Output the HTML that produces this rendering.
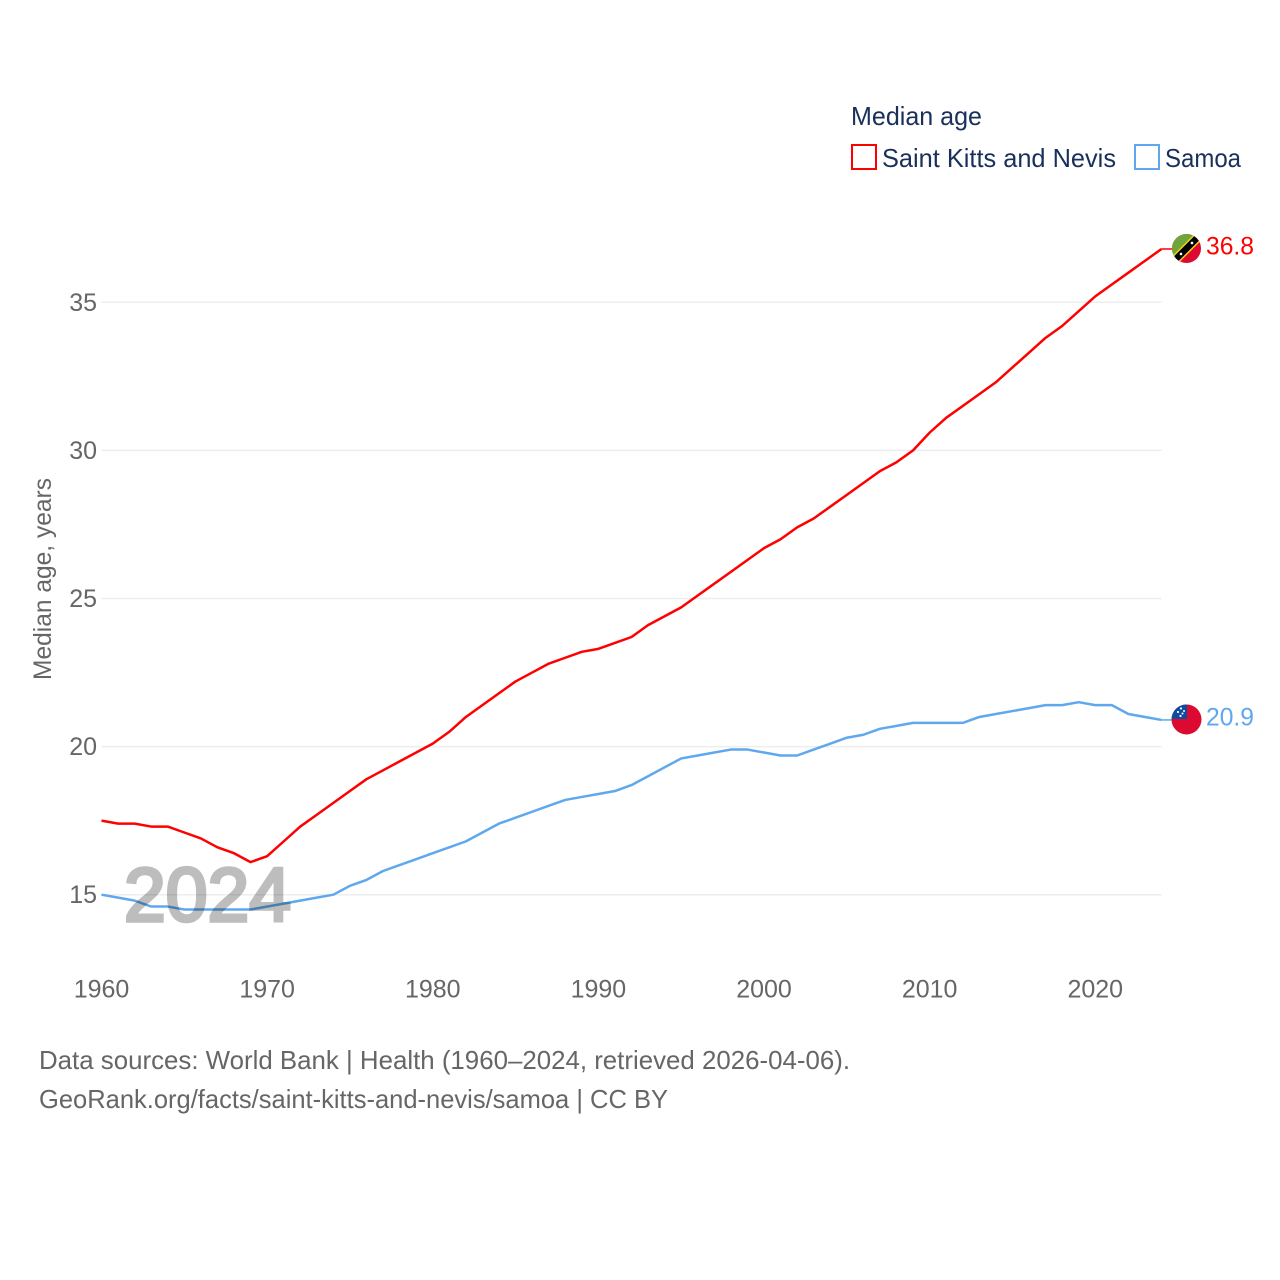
<!DOCTYPE html>
<html lang="en">
<head>
<meta charset="utf-8">
<title>Median age: Saint Kitts and Nevis vs Samoa</title>
<style>
html,body{margin:0;padding:0;background:#fff;}
svg{display:block;font-family:"Liberation Sans",sans-serif;}
.tick{font-size:25px;fill:#666;}
.legend{font-size:26px;fill:#18305a;}
.foot{font-size:26px;fill:#666;}
</style>
</head>
<body>
<svg id="chart" xmlns="http://www.w3.org/2000/svg" width="1280" height="1280" viewBox="0 0 1280 1280">
  <rect width="1280" height="1280" fill="#fff"/>
  <g id="grid"></g>
  <g id="yticks"></g>
  <g id="xticks"></g>
  <g id="series"></g>
  <text x="124" y="921" font-size="76" font-weight="400" fill="#bdbdbd" stroke="#bdbdbd" stroke-width="3.5" textLength="167" lengthAdjust="spacingAndGlyphs" style="mix-blend-mode:multiply">2024</text>
  <text transform="translate(51,680) rotate(-90)" font-size="25" fill="#666" textLength="202" lengthAdjust="spacingAndGlyphs">Median age, years</text>

  <text class="legend" x="851" y="125" textLength="131" lengthAdjust="spacingAndGlyphs">Median age</text>
  <g>
    <rect x="852" y="145" width="24" height="24" fill="none" stroke="#ff0000" stroke-width="2"/>
    <text class="legend" x="882" y="167" textLength="234" lengthAdjust="spacingAndGlyphs">Saint Kitts and Nevis</text>
  </g>
  <g>
    <rect x="1135" y="145" width="24" height="24" fill="none" stroke="#5fa8ee" stroke-width="2"/>
    <text class="legend" x="1165" y="167" textLength="76" lengthAdjust="spacingAndGlyphs">Samoa</text>
  </g>

  <defs>
    <clipPath id="flag-clip-a"><circle cx="0" cy="0" r="14.5"/></clipPath>
    <clipPath id="flag-clip-b"><circle cx="0" cy="0" r="15"/></clipPath>
  </defs>
  <g id="flag-kn" clip-path="url(#flag-clip-a)" style="display:none">
    <rect x="-16" y="-16" width="32" height="32" fill="#dc0a30"/>
    <polygon points="-16,-16 16,-16 -16,16" fill="#6ea53c"/>
    <line x1="-16" y1="16" x2="16" y2="-16" stroke="#f5d311" stroke-width="9.5"/>
    <line x1="-16" y1="16" x2="16" y2="-16" stroke="#000" stroke-width="6.5"/>
    <circle cx="-5.5" cy="5.5" r="1.3" fill="#fff"/>
    <circle cx="5.5" cy="-5.5" r="1.3" fill="#fff"/>
  </g>
  <g id="flag-ws" clip-path="url(#flag-clip-b)" style="display:none">
    <rect x="-16" y="-16" width="32" height="32" fill="#dc0a30"/>
    <rect x="-16" y="-16" width="16.5" height="15.5" fill="#0d4da1"/>
    <circle cx="-5.5" cy="-11" r="1.1" fill="#fff"/>
    <circle cx="-2.5" cy="-8.5" r="1" fill="#fff"/>
    <circle cx="-8.5" cy="-7.5" r="1.1" fill="#fff"/>
    <circle cx="-4" cy="-6" r="1" fill="#fff"/>
    <circle cx="-6" cy="-3.5" r="1.1" fill="#fff"/>
  </g>
  <g id="end-labels"></g>

  <text class="foot" x="39" y="1069" textLength="811" lengthAdjust="spacingAndGlyphs">Data sources: World Bank | Health (1960–2024, retrieved 2026-04-06).</text>
  <text class="foot" x="39" y="1108" textLength="629" lengthAdjust="spacingAndGlyphs">GeoRank.org/facts/saint-kitts-and-nevis/samoa | CC BY</text>
</svg>

<script>
const startYear = 1960;
const yTickValues = [15, 20, 25, 30, 35];
const xTickYears = [1960, 1970, 1980, 1990, 2000, 2010, 2020];
const saintKittsValues = [17.5,17.4,17.4,17.3,17.3,17.1,16.9,16.6,16.4,16.1,16.3,16.8,17.3,17.7,18.1,18.5,18.9,19.2,19.5,19.8,20.1,20.5,21.0,21.4,21.8,22.2,22.5,22.8,23.0,23.2,23.3,23.5,23.7,24.1,24.4,24.7,25.1,25.5,25.9,26.3,26.7,27.0,27.4,27.7,28.1,28.5,28.9,29.3,29.6,30.0,30.6,31.1,31.5,31.9,32.3,32.8,33.3,33.8,34.2,34.7,35.2,35.6,36.0,36.4,36.8];
const samoaValues = [15.0,14.9,14.8,14.6,14.6,14.5,14.5,14.5,14.5,14.5,14.6,14.7,14.8,14.9,15.0,15.3,15.5,15.8,16.0,16.2,16.4,16.6,16.8,17.1,17.4,17.6,17.8,18.0,18.2,18.3,18.4,18.5,18.7,19.0,19.3,19.6,19.7,19.8,19.9,19.9,19.8,19.7,19.7,19.9,20.1,20.3,20.4,20.6,20.7,20.8,20.8,20.8,20.8,21.0,21.1,21.2,21.3,21.4,21.4,21.5,21.4,21.4,21.1,21.0,20.9];
const endLabels = ["36.8", "20.9"];

const NS = "http://www.w3.org/2000/svg";
function xScale(year) { return 101.5 + (year - 1960) * 16.5625; }
function yScale(value) { return 894.7 - (value - 15) * 29.62; }

const gridGroup = document.getElementById("grid");
const yTickGroup = document.getElementById("yticks");
yTickValues.forEach(function (v) {
  const line = document.createElementNS(NS, "line");
  
  
  line.setAttribute("x1", xScale(1960));
  line.setAttribute("x2", xScale(2024));
  line.setAttribute("y1", yScale(v));
  line.setAttribute("y2", yScale(v));
  line.setAttribute("stroke", "#eeeeee");
  line.setAttribute("stroke-width", "1.5");
  gridGroup.appendChild(line);

  const label = document.createElementNS(NS, "text");
  
  
  label.setAttribute("class", "tick");
  label.setAttribute("x", 97);
  label.setAttribute("y", yScale(v) + 8.5);
  label.setAttribute("text-anchor", "end");
  label.textContent = String(v);
  yTickGroup.appendChild(label);
});

const xTickGroup = document.getElementById("xticks");
xTickYears.forEach(function (year) {
  const label = document.createElementNS(NS, "text");
  
  
  label.setAttribute("class", "tick");
  label.setAttribute("x", xScale(year));
  label.setAttribute("y", 997.5);
  label.setAttribute("text-anchor", "middle");
  label.textContent = String(year);
  xTickGroup.appendChild(label);
});

const seriesGroup = document.getElementById("series");
const flagIds = ["flag-kn", "flag-ws"];
const flagOffsets = [-0.5, -0.5];
const labelGroup = document.getElementById("end-labels");

function drawSeries(values, color, index) {
  const pts = values.map(function (v, i) {
    return xScale(startYear + i).toFixed(2) + "," + yScale(v).toFixed(2);
  }).join(" ");
  const poly = document.createElementNS(NS, "polyline");
  
  
  poly.setAttribute("points", pts);
  poly.setAttribute("fill", "none");
  poly.setAttribute("stroke", color);
  poly.setAttribute("stroke-width", "2.5");
  poly.setAttribute("stroke-linejoin", "round");
  seriesGroup.appendChild(poly);

  const lastValue = values[values.length - 1];
  const lastX = xScale(startYear + values.length - 1);
  const lastY = yScale(lastValue);

  const connector = document.createElementNS(NS, "line");
  
  
  connector.setAttribute("x1", lastX);
  connector.setAttribute("x2", lastX + 11);
  connector.setAttribute("y1", lastY);
  connector.setAttribute("y2", lastY);
  connector.setAttribute("stroke", color);
  connector.setAttribute("stroke-width", "1.5");
  seriesGroup.appendChild(connector);

  const flag = document.getElementById(flagIds[index]);
  flag.setAttribute("transform", "translate(1186.5," + (lastY + flagOffsets[index]) + ")");
  flag.style.display = "";

  const label = document.createElementNS(NS, "text");
  
  
  label.setAttribute("x", 1206);
  label.setAttribute("y", lastY + 5.5);
  label.setAttribute("font-size", "25");
  label.setAttribute("fill", color);
  label.setAttribute("textLength", "48");
  label.setAttribute("lengthAdjust", "spacingAndGlyphs");
  label.textContent = endLabels[index];
  labelGroup.appendChild(label);
}

drawSeries(saintKittsValues, "#ff0000", 0);
drawSeries(samoaValues, "#5fa8ee", 1);
</script>
</body>
</html>
